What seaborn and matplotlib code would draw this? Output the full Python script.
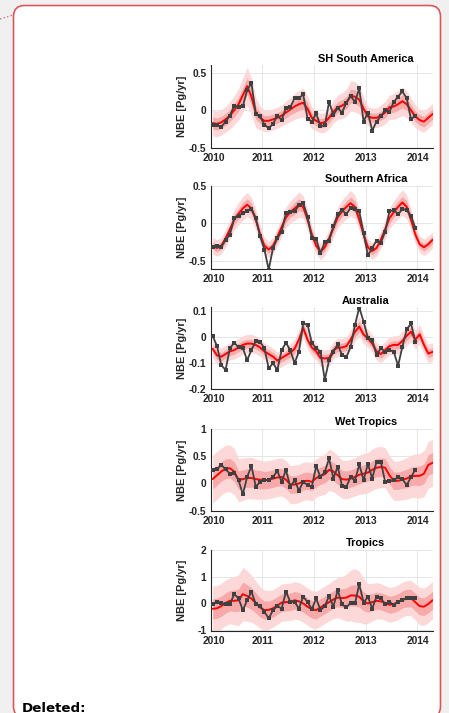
import numpy as np
import pandas as pd
import matplotlib
matplotlib.use("Agg")
import matplotlib.pyplot as plt
import matplotlib.transforms as mtransforms
from matplotlib.patches import FancyBboxPatch
import seaborn as sns

W, H = 449, 713

# ---------------------------------------------------------------- data
titles = ["SH South America", "Southern Africa", "Australia", "Wet Tropics", "Tropics"]
ylabel = "NBE [Pg/yr]"
xticks = [2010, 2011, 2012, 2013, 2014]
xticklabels = ["2010", "2011", "2012", "2013", "2014"]

ylims = [(-0.5, 0.6), (-0.615, 0.5), (-0.2, 0.115), (-0.5, 1.0), (-1.03, 2.0)]
yticks = [[-0.5, 0, 0.5], [-0.5, 0, 0.5], [-0.2, -0.1, 0, 0.1], [-0.5, 0, 0.5, 1], [-1, 0, 1, 2]]
yticklabels = [["-0.5", "0", "0.5"], ["-0.5", "0", "0.5"], ["-0.2", "-0.1", "0", "0.1"],
               ["-0.5", "0", "0.5", "1"], ["-1", "0", "1", "2"]]

# observed monthly NBE, Jan 2010 - Dec 2013
sa_obs = [-0.19, -0.20, -0.22, -0.15, -0.07, 0.06, 0.04, 0.05, 0.27, 0.36, -0.05, -0.08,
          -0.19, -0.24, -0.18, -0.07, -0.13, 0.03, 0.04, 0.16, 0.16, 0.21, -0.11, -0.15,
          -0.04, -0.21, -0.20, 0.11, -0.06, 0.03, -0.03, 0.10, 0.19, 0.11, 0.29, -0.15,
          -0.03, -0.27, -0.15, -0.08, 0.00, -0.02, 0.11, 0.18, 0.25, 0.16, -0.12, -0.07]
saf_obs = [-0.31, -0.30, -0.32, -0.22, -0.15, 0.07, 0.10, 0.14, 0.16, 0.19, 0.07, -0.17,
           -0.35, -0.62, -0.33, -0.20, -0.11, 0.14, 0.15, 0.16, 0.24, 0.27, 0.09, -0.20,
           -0.21, -0.40, -0.25, -0.23, -0.04, 0.12, 0.18, 0.12, 0.21, 0.19, 0.16, -0.13,
           -0.43, -0.33, -0.23, -0.26, -0.11, 0.16, 0.18, 0.12, 0.19, 0.18, 0.10, -0.06]
aus_obs = [0.004, -0.034, -0.107, -0.126, -0.043, -0.022, -0.039, -0.043, -0.088, -0.050, -0.015, -0.018,
           -0.043, -0.120, -0.100, -0.126, -0.050, -0.022, -0.050, -0.100, -0.056, 0.052, 0.048, -0.022,
           -0.043, -0.056, -0.164, -0.088, -0.056, -0.028, -0.069, -0.078, -0.037, 0.046, 0.113, 0.059,
           -0.003, -0.011, -0.069, -0.043, -0.056, -0.050, -0.056, -0.110, -0.037, 0.029, 0.052, -0.018]
wt_obs = [0.25, 0.26, 0.34, 0.26, 0.18, 0.20, 0.06, -0.20, 0.12, 0.32, -0.06, 0.03,
          0.06, 0.07, 0.12, 0.23, 0.03, 0.25, -0.06, 0.06, -0.13, 0.03, -0.03, -0.06,
          0.32, 0.12, 0.21, 0.46, 0.09, 0.31, -0.05, -0.06, 0.12, 0.05, 0.35, 0.06,
          0.36, 0.09, 0.40, 0.40, 0.03, 0.04, 0.06, 0.12, 0.08, -0.03, 0.12, 0.25]
tr_obs = [-0.03, 0.06, 0.03, -0.03, -0.03, 0.35, 0.19, -0.25, 0.12, 0.44, -0.03, -0.10,
          -0.31, -0.56, -0.25, -0.10, -0.19, 0.44, 0.06, 0.06, -0.19, 0.25, 0.06, -0.22,
          0.19, -0.25, -0.10, 0.28, -0.12, 0.50, -0.03, -0.15, 0.03, 0.00, 0.72, 0.03,
          0.25, -0.19, 0.25, 0.19, -0.03, 0.06, -0.06, 0.06, 0.12, 0.19, 0.19, 0.19]

# ensemble mean, Jan 2010 - Apr 2014
sa_mod = [-0.17, -0.18, -0.16, -0.12, -0.07, 0.00, 0.08, 0.20, 0.32, 0.18, -0.03, -0.10,
          -0.14, -0.14, -0.12, -0.10, -0.07, -0.03, 0.01, 0.05, 0.08, 0.10, 0.02, -0.10,
          -0.14, -0.17, -0.16, -0.10, -0.02, 0.04, 0.06, 0.10, 0.19, 0.18, 0.14, 0.02,
          -0.08, -0.10, -0.10, -0.07, -0.03, 0.04, 0.05, 0.08, 0.12, 0.08, 0.00, -0.08,
          -0.13, -0.15, -0.10, -0.05]
saf_mod = [-0.30, -0.33, -0.30, -0.20, -0.08, 0.05, 0.13, 0.20, 0.25, 0.20, 0.05, -0.15,
           -0.30, -0.35, -0.30, -0.18, -0.05, 0.08, 0.15, 0.20, 0.25, 0.22, 0.05, -0.15,
           -0.30, -0.38, -0.32, -0.20, -0.06, 0.08, 0.16, 0.22, 0.27, 0.22, 0.05, -0.15,
           -0.32, -0.37, -0.33, -0.22, -0.08, 0.07, 0.15, 0.22, 0.28, 0.22, 0.05, -0.15,
           -0.28, -0.32, -0.28, -0.22]
aus_mod = [-0.045, -0.070, -0.075, -0.065, -0.055, -0.050, -0.040, -0.030, -0.025, -0.025, -0.030, -0.040,
           -0.055, -0.065, -0.075, -0.090, -0.080, -0.070, -0.060, -0.045, -0.010, 0.035, -0.010, -0.040,
           -0.055, -0.080, -0.082, -0.080, -0.050, -0.040, -0.040, -0.035, -0.010, 0.020, 0.040, 0.010,
           -0.005, -0.025, -0.055, -0.065, -0.050, -0.035, -0.030, -0.030, -0.015, 0.005, 0.020, -0.010,
           0.010, -0.030, -0.063, -0.057]
wt_mod = [0.08, 0.15, 0.22, 0.27, 0.28, 0.22, 0.06, 0.08, 0.10, 0.10, 0.08, 0.07,
          0.06, 0.07, 0.09, 0.11, 0.12, 0.07, -0.02, -0.02, 0.00, 0.04, 0.05, 0.03,
          0.10, 0.14, 0.17, 0.25, 0.22, 0.15, 0.08, 0.07, 0.09, 0.12, 0.16, 0.18,
          0.20, 0.25, 0.29, 0.30, 0.29, 0.15, 0.05, 0.05, 0.07, 0.09, 0.13, 0.14,
          0.14, 0.18, 0.34, 0.38]
tr_mod = [-0.20, -0.18, -0.10, 0.02, 0.10, 0.10, 0.12, 0.35, 0.28, 0.18, 0.02, -0.15,
          -0.25, -0.24, -0.18, -0.08, 0.03, 0.05, 0.06, 0.12, 0.08, 0.00, -0.12, -0.22,
          -0.25, -0.15, -0.05, 0.05, 0.15, 0.22, 0.20, 0.22, 0.30, 0.30, 0.25, 0.08,
          0.00, 0.05, 0.10, 0.08, 0.02, -0.05, -0.02, 0.05, 0.15, 0.20, 0.20, 0.05,
          -0.10, -0.12, -0.02, 0.12]

# ensemble half-spread: inner and outer envelopes
sa_in = [0.08, 0.08, 0.08, 0.08, 0.08, 0.09, 0.09, 0.10, 0.11, 0.11, 0.09, 0.07,
         0.07, 0.07, 0.07, 0.07, 0.07, 0.07, 0.07, 0.08, 0.08, 0.09, 0.08, 0.07,
         0.06, 0.06, 0.06, 0.07, 0.07, 0.07, 0.08, 0.08, 0.09, 0.09, 0.09, 0.07,
         0.06, 0.06, 0.06, 0.06, 0.07, 0.07, 0.08, 0.08, 0.09, 0.08, 0.07, 0.07,
         0.07, 0.07, 0.07, 0.07]
sa_out = [0.17, 0.17, 0.17, 0.17, 0.18, 0.19, 0.21, 0.23, 0.25, 0.25, 0.20, 0.16,
          0.14, 0.14, 0.14, 0.14, 0.14, 0.15, 0.16, 0.17, 0.18, 0.19, 0.17, 0.14,
          0.13, 0.13, 0.13, 0.14, 0.15, 0.16, 0.17, 0.18, 0.20, 0.20, 0.19, 0.16,
          0.13, 0.13, 0.13, 0.14, 0.15, 0.16, 0.17, 0.18, 0.19, 0.18, 0.16, 0.15,
          0.14, 0.14, 0.14, 0.14]
saf_in = [0.05, 0.05, 0.05, 0.06, 0.06, 0.07, 0.07, 0.08, 0.08, 0.07, 0.07, 0.06,
          0.05, 0.05, 0.05, 0.06, 0.06, 0.07, 0.07, 0.08, 0.08, 0.07, 0.07, 0.06,
          0.05, 0.05, 0.05, 0.06, 0.06, 0.07, 0.07, 0.08, 0.08, 0.08, 0.07, 0.06,
          0.05, 0.05, 0.05, 0.06, 0.06, 0.07, 0.07, 0.08, 0.08, 0.08, 0.07, 0.06,
          0.05, 0.05, 0.05, 0.05]
saf_out = [0.11, 0.11, 0.11, 0.12, 0.13, 0.14, 0.15, 0.16, 0.16, 0.15, 0.14, 0.12,
           0.11, 0.11, 0.11, 0.12, 0.13, 0.14, 0.15, 0.16, 0.17, 0.15, 0.14, 0.12,
           0.11, 0.11, 0.11, 0.12, 0.13, 0.14, 0.15, 0.16, 0.17, 0.16, 0.14, 0.12,
           0.11, 0.11, 0.11, 0.12, 0.13, 0.14, 0.15, 0.16, 0.17, 0.16, 0.14, 0.12,
           0.11, 0.11, 0.11, 0.11]
aus_in = [0.016, 0.016, 0.016, 0.016, 0.016, 0.016, 0.016, 0.016, 0.016, 0.016, 0.016, 0.016,
          0.016, 0.016, 0.016, 0.016, 0.016, 0.016, 0.017, 0.018, 0.020, 0.020, 0.018, 0.016,
          0.016, 0.016, 0.016, 0.016, 0.016, 0.016, 0.016, 0.017, 0.018, 0.020, 0.020, 0.018,
          0.016, 0.016, 0.016, 0.016, 0.016, 0.016, 0.016, 0.016, 0.017, 0.018, 0.018, 0.017,
          0.017, 0.017, 0.016, 0.016]
aus_out = [0.034, 0.034, 0.033, 0.033, 0.033, 0.034, 0.035, 0.035, 0.035, 0.035, 0.034, 0.033,
           0.032, 0.032, 0.032, 0.033, 0.033, 0.034, 0.035, 0.036, 0.038, 0.038, 0.036, 0.034,
           0.033, 0.033, 0.033, 0.033, 0.033, 0.034, 0.035, 0.036, 0.037, 0.038, 0.038, 0.036,
           0.034, 0.033, 0.033, 0.033, 0.033, 0.034, 0.035, 0.035, 0.036, 0.037, 0.038, 0.037,
           0.037, 0.036, 0.035, 0.035]
wt_in = [0.18, 0.18, 0.18, 0.18, 0.18, 0.18, 0.17, 0.17, 0.17, 0.17, 0.17, 0.17,
         0.16, 0.16, 0.16, 0.16, 0.16, 0.16, 0.16, 0.16, 0.16, 0.16, 0.16, 0.16,
         0.16, 0.16, 0.16, 0.17, 0.17, 0.17, 0.16, 0.16, 0.16, 0.16, 0.16, 0.16,
         0.16, 0.16, 0.17, 0.17, 0.17, 0.16, 0.16, 0.16, 0.16, 0.17, 0.17, 0.17,
         0.18, 0.18, 0.19, 0.19]
wt_out = [0.44, 0.44, 0.43, 0.43, 0.43, 0.42, 0.40, 0.39, 0.38, 0.38, 0.37, 0.36,
          0.35, 0.35, 0.35, 0.35, 0.35, 0.35, 0.35, 0.35, 0.35, 0.35, 0.35, 0.35,
          0.35, 0.36, 0.37, 0.38, 0.37, 0.36, 0.35, 0.35, 0.35, 0.35, 0.36, 0.37,
          0.37, 0.38, 0.38, 0.38, 0.37, 0.36, 0.36, 0.36, 0.37, 0.38, 0.39, 0.40,
          0.41, 0.42, 0.43, 0.43]
tr_in = [0.38, 0.38, 0.38, 0.38, 0.38, 0.40, 0.42, 0.45, 0.42, 0.40, 0.38, 0.36,
         0.34, 0.33, 0.33, 0.33, 0.33, 0.33, 0.33, 0.33, 0.33, 0.33, 0.33, 0.33,
         0.33, 0.33, 0.33, 0.33, 0.33, 0.34, 0.35, 0.36, 0.38, 0.40, 0.38, 0.35,
         0.33, 0.32, 0.32, 0.32, 0.32, 0.32, 0.32, 0.32, 0.32, 0.33, 0.33, 0.33,
         0.33, 0.33, 0.33, 0.33]
tr_out = [0.85, 0.85, 0.85, 0.85, 0.86, 0.90, 0.95, 1.00, 0.95, 0.88, 0.82, 0.78,
          0.75, 0.72, 0.70, 0.70, 0.70, 0.70, 0.70, 0.70, 0.70, 0.70, 0.70, 0.70,
          0.70, 0.70, 0.70, 0.70, 0.72, 0.75, 0.80, 0.88, 0.95, 1.00, 0.95, 0.85,
          0.75, 0.70, 0.68, 0.66, 0.65, 0.65, 0.65, 0.65, 0.65, 0.65, 0.66, 0.68,
          0.70, 0.70, 0.70, 0.70]

observed = [sa_obs, saf_obs, aus_obs, wt_obs, tr_obs]
modelled = [sa_mod, saf_mod, aus_mod, wt_mod, tr_mod]
spread_in = [sa_in, saf_in, aus_in, wt_in, tr_in]
spread_out = [sa_out, saf_out, aus_out, wt_out, tr_out]

t_obs = 2010 + (np.arange(len(sa_obs)) + 0.5) / 12.0
t_mod = 2010 + (np.arange(len(sa_mod)) + 0.5) / 12.0

# ---------------------------------------------------------------- style
sns.set_style("white")
plt.rcParams["font.family"] = ["Liberation Sans", "DejaVu Sans"]
plt.rcParams["font.weight"] = "bold"

C_OUT = "#fdd8d8"
C_IN = "#f8aaaa"
C_MOD = "#ff0000"
C_OBS = "#404040"
FS = 7.4
FS_TITLE = 7.9

fig = plt.figure(figsize=(W / 100, H / 100), dpi=100, facecolor="#f0f0f0")

# page background, framed comment box
bg = fig.add_axes([0, 0, 1, 1], zorder=-10)
bg.set_xlim(0, W)
bg.set_ylim(H, 0)
bg.axis("off")
bg.add_patch(FancyBboxPatch((13.5, 5.5), 427, 712, boxstyle="round,pad=0,rounding_size=11",
                            facecolor="white", edgecolor="#d9585a", linewidth=1.2))
bg.plot([0, 13], [19, 15], ls=":", color="#e07070", lw=1.0)
bg.text(22, 711.5, "Deleted:", fontsize=9.6, fontweight="bold", family="DejaVu Sans",
        color="black", va="baseline", ha="left")

# panel extents in pixels (left, top, right, bottom)
panel_px = [(210.5, 65, 433, 148), (210.5, 186, 433, 269.3), (210.5, 307, 433, 389.3),
            (210.5, 429, 433, 510.7), (210.5, 550, 433, 631)]

for i, (l, t, r, b) in enumerate(panel_px):
    ax = fig.add_axes([l / W, 1 - b / H, (r - l) / W, (b - t) / H])
    ax.set_facecolor("white")
    mod = np.array(modelled[i])
    s_in = np.array(spread_in[i])
    s_out = np.array(spread_out[i])
    ax.fill_between(t_mod, mod - s_out, mod + s_out, color=C_OUT, lw=0, zorder=1)
    ax.fill_between(t_mod, mod - s_in, mod + s_in, color=C_IN, lw=0, zorder=2)
    df_mod = pd.DataFrame({"time": t_mod, "nbe": mod})
    df_obs = pd.DataFrame({"time": t_obs, "nbe": observed[i]})
    sns.lineplot(data=df_mod, x="time", y="nbe", color=C_MOD, lw=1.4, ax=ax, zorder=3)
    sns.lineplot(data=df_obs, x="time", y="nbe", color=C_OBS, lw=1.3, marker="s",
                 markersize=2.7, markeredgewidth=0, ax=ax, zorder=4)

    ax.set_xlim(2010, 2014.3)
    ax.set_ylim(*ylims[i])
    ax.set_xticks(xticks)
    ax.set_xticklabels(xticklabels)
    ax.set_yticks(yticks[i])
    ax.set_yticklabels(yticklabels[i])
    ax.grid(True, color="#e2e2e2", lw=0.6, zorder=0)
    ax.set_axisbelow(True)
    for side in ("top", "right"):
        ax.spines[side].set_visible(False)
    for side in ("left", "bottom"):
        ax.spines[side].set_color("#262626")
        ax.spines[side].set_linewidth(0.8)
    ax.tick_params(direction="in", length=2.5, width=0.6, labelsize=FS, colors="#262626")
    ax.tick_params(axis="x", pad=3.5)
    ax.tick_params(axis="y", pad=3.0)
    for lab in ax.get_xticklabels() + ax.get_yticklabels():
        lab.set_fontweight("bold")
    # first year label sits slightly right of its tick, clear of the lowest y label
    first = ax.get_xticklabels()[0]
    first.set_transform(first.get_transform() +
                        mtransforms.ScaledTranslation(3.5 / 100, 0, fig.dpi_scale_trans))
    ax.set_xlabel("")
    ax.set_ylabel(ylabel, fontsize=FS_TITLE, fontweight="bold", color="#262626", va="center")
    ax.yaxis.set_label_coords(-0.126, 0.5)
    trans = mtransforms.blended_transform_factory(ax.transData, ax.transAxes)
    ax.text(2013.0, 1.0, titles[i], transform=trans + mtransforms.ScaledTranslation(
                0, 1.5 / 100, fig.dpi_scale_trans),
            ha="center", va="bottom", fontsize=FS_TITLE, fontweight="bold", color="black")

fig.savefig("out.png", dpi=100, facecolor=fig.get_facecolor())
